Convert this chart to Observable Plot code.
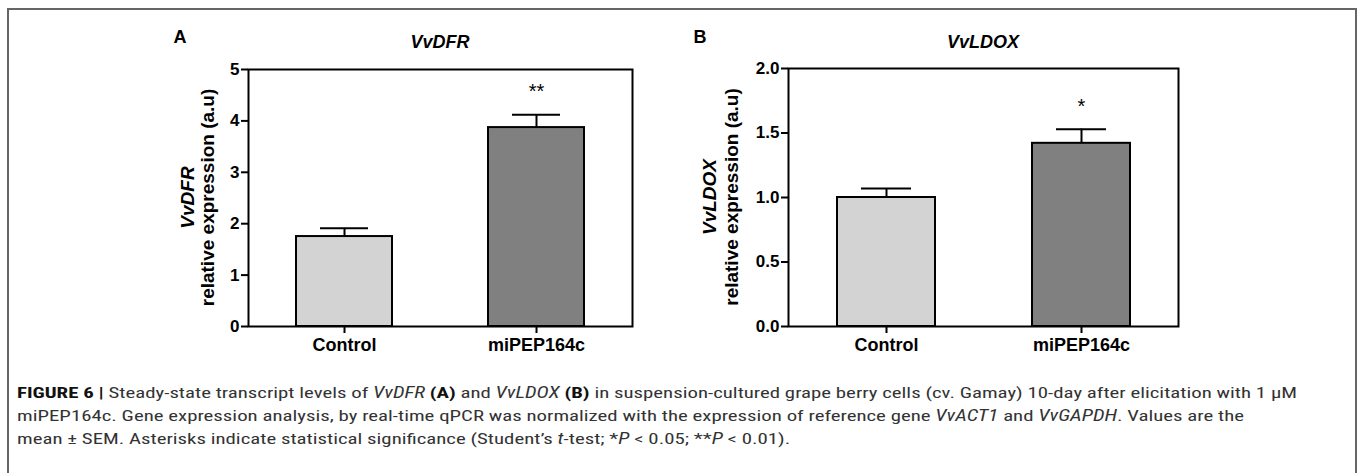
<!DOCTYPE html>
<html>
<head>
<meta charset="utf-8">
<script src="https://cdn.jsdelivr.net/npm/d3@7"></script>
<script src="https://cdn.jsdelivr.net/npm/@observablehq/plot@0.6"></script>
<style>
  html, body { margin: 0; padding: 0; background: #fff; overflow: hidden; width: 1357px; height: 473px; }
  #frame { position: absolute; left: 7px; top: 8px; width: 1346px; height: 480px; border: 2px solid #666; border-bottom: none; background: none; z-index: 10; pointer-events: none; }
  .panel { position: absolute; top: 0; }
  #caption { position: absolute; left: 17px; top: 0; font-family: "Liberation Sans Narrow", "Roboto Condensed", "Liberation Sans", Arial, sans-serif; font-size: 15.5px; color: #333; }
  .cl { position: absolute; left: 0; white-space: nowrap; transform-origin: 0 50%; line-height: 1; }
  .cl b { color: #111; }
</style>
</head>
<body>
<div id="panelA" class="panel" style="left:0px"></div>
<div id="panelB" class="panel" style="left:680px"></div>
<div id="caption">
  <div class="cl" id="cl1" style="top:386px"><b>FIGURE 6 |</b> Steady-state transcript levels of <i>VvDFR</i> <b>(A)</b> and <i>VvLDOX</i> <b>(B)</b> in suspension-cultured grape berry cells (cv. Gamay) 10-day after elicitation with 1 μM</div>
  <div class="cl" id="cl2" style="top:409px">miPEP164c. Gene expression analysis, by real-time qPCR was normalized with the expression of reference gene <i>VvACT1</i> and <i>VvGAPDH</i>. Values are the</div>
  <div class="cl" id="cl3" style="top:432px">mean ± SEM. Asterisks indicate statistical significance (Student’s <i>t</i>-test; *<i>P</i> &lt; 0.05; **<i>P</i> &lt; 0.01).</div>
</div>
<div id="frame"></div>
<script>
// ---- data ----
const categories = ["Control", "miPEP164c"];
const barColors = ["#d3d3d3", "#808080"];
const dfrMean = [1.75, 3.87];
const dfrSem = [0.16, 0.25];
const dfrStars = ["", "**"];
const dfrTicks = [0, 1, 2, 3, 4, 5];
const ldoxMean = [1.00, 1.42];
const ldoxSem = [0.07, 0.11];
const ldoxStars = ["", "*"];
const ldoxTicks = [0, 0.5, 1.0, 1.5, 2.0];

const FONT = "'Liberation Sans', Arial, Helvetica, sans-serif";

function panel(opts) {
  const data = categories.map((c, i) => ({
    cat: c, mean: opts.means[i], sem: opts.sems[i], top: opts.means[i] + opts.sems[i],
    star: opts.stars[i], color: barColors[i]
  }));
  const svg = Plot.plot({
    width: opts.width, height: 370,
    marginLeft: opts.marginLeft, marginRight: opts.marginRight,
    marginTop: opts.marginTop, marginBottom: 44,
    style: { fontFamily: FONT, background: "transparent", overflow: "visible", color: "black" },
    x: { domain: categories, paddingInner: 0.5, paddingOuter: 0.25, label: null },
    y: { domain: [0, opts.ticks[opts.ticks.length - 1]], label: null },
    color: { type: "identity" },
    marks: [
      Plot.ruleX(data, { x: "cat", y1: "mean", y2: "top", stroke: "black", strokeWidth: 2 }),
      Plot.tickY(data, { x: "cat", y: "top", stroke: "black", strokeWidth: 2, insetLeft: 24, insetRight: 24 }),
      Plot.barY(data, { x: "cat", y: "mean", fill: "color", stroke: "black", strokeWidth: 2 }),
      Plot.text(data, { x: "cat", y: "top", text: "star", dy: -23, fontSize: 20, fill: "black" }),
      Plot.frame({ stroke: "black", strokeWidth: 2 }),
      Plot.axisY({ ticks: opts.ticks, tickFormat: opts.fmt, tickSize: 7, tickPadding: 2, fontSize: 17, fontWeight: "bold", strokeWidth: 2, label: null }),
      Plot.axisX({ tickSize: 7, tickPadding: 5, fontSize: 18, fontWeight: "bold", strokeWidth: 2, label: null })
    ]
  });
  const s = d3.select(svg);
  s.append("text").attr("x", opts.letterX).attr("y", 43)
    .attr("font-family", FONT).attr("font-weight", "bold").attr("font-size", 18).text(opts.letter);
  const cx = opts.marginLeft + (opts.width - opts.marginLeft - opts.marginRight) / 2;
  s.append("text").attr("x", cx).attr("y", 48).attr("text-anchor", "middle")
    .attr("font-family", FONT).attr("font-weight", "bold").attr("font-style", "italic").attr("font-size", 18).text(opts.gene);
  const cy = opts.marginTop + (370 - 44 - opts.marginTop) / 2;
  s.append("text").attr("transform", `translate(${opts.lab1X},${cy}) rotate(-90)`).attr("text-anchor", "middle")
    .attr("font-family", FONT).attr("font-weight", "bold").attr("font-style", "italic").attr("font-size", 19).text(opts.gene);
  s.append("text").attr("transform", `translate(${opts.lab2X},${cy}) rotate(-90)`).attr("text-anchor", "middle")
    .attr("font-family", FONT).attr("font-weight", "bold").attr("font-size", 19).text("relative expression (a.u)");
  return svg;
}

document.getElementById("panelA").appendChild(panel({
  means: dfrMean, sems: dfrSem, stars: dfrStars, ticks: dfrTicks, fmt: d3.format("d"),
  width: 680, marginLeft: 248, marginRight: 48, marginTop: 69,
  letter: "A", letterX: 180, gene: "VvDFR", lab1X: 194, lab2X: 214
}));
document.getElementById("panelB").appendChild(panel({
  means: ldoxMean, sems: ldoxSem, stars: ldoxStars, ticks: ldoxTicks, fmt: d3.format(".1f"),
  width: 677, marginLeft: 108, marginRight: 179, marginTop: 68,
  letter: "B", letterX: 20, gene: "VvLDOX", lab1X: 36, lab2X: 58
}));

// fit caption line width to the reference (line 1 spans ~1280px)
const l1 = document.getElementById("cl1");
const k = 1280 / l1.getBoundingClientRect().width;
document.querySelectorAll(".cl").forEach(el => el.style.transform = `scaleX(${k})`);
</script>
</body>
</html>
